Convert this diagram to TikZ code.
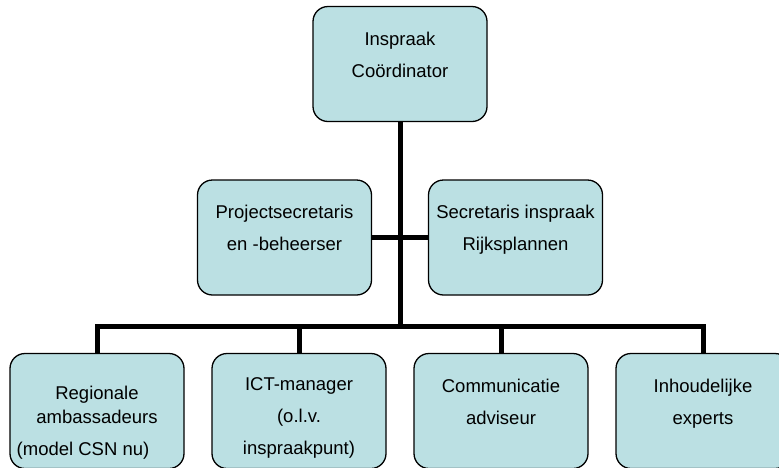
\documentclass[tikz,border=0pt]{standalone}
\usepackage{fontspec}
\setmainfont{Liberation Sans}
\usepackage{tikz}
\usepackage{xcolor}
\definecolor{boxfill}{RGB}{187,224,227}
\newcommand{\topgap}[1][26pt]{\rule{0pt}{#1}}

\begin{document}
\begin{tikzpicture}[x=1pt,y=-1pt,
        box/.style={draw, fill=boxfill, rounded corners=15pt, line width=1.3pt,
            minimum width=174pt, minimum height=115pt, align=center,
            font=\fontsize{18.5}{32}\selectfont},
        link/.style={line width=5pt}]
        \useasboundingbox (0,0) rectangle (779,467);
        % Top
        \node[box] (coord) at (400,64) {\topgap Inspraak\\ Coördinator\\ \mbox{}};
        % Staff
        \node[box] (projsec) at (284.5,237.5) {\topgap Projectsecretaris\\ en -beheerser\\ \mbox{}};
        \node[box] (secr) at (515.5,237.5) {\topgap Secretaris inspraak\\ Rijksplannen\\ \mbox{}};
        % Bottom row
        \node[box] (region) at (97,411) {\topgap[36pt]Regionale\\[-8pt] ambassadeurs\\ (model CSN nu)\hspace*{28pt}};
        \node[box] (ict) at (299,411) {\topgap ICT-manager\\ (o.l.v.\\ inspraakpunt)};
        \node[box] (comm) at (501,411) {\topgap Communicatie\\ adviseur\\ \mbox{}};
        \node[box] (experts) at (703,411) {\topgap Inhoudelijke\\ experts\\ \mbox{}};
        \coordinate (bar) at (400,326);
        % Lines
        \draw[link] (coord.south) -- (bar);
        \draw[link] (projsec.east) -- (secr.west);
        \draw[link] (region.north) |- (bar) -| (experts.north);
        \draw[link] (ict.north) -- (ict.north |- bar);
        \draw[link] (comm.north) -- (comm.north |- bar);
\end{tikzpicture}
\end{document}
